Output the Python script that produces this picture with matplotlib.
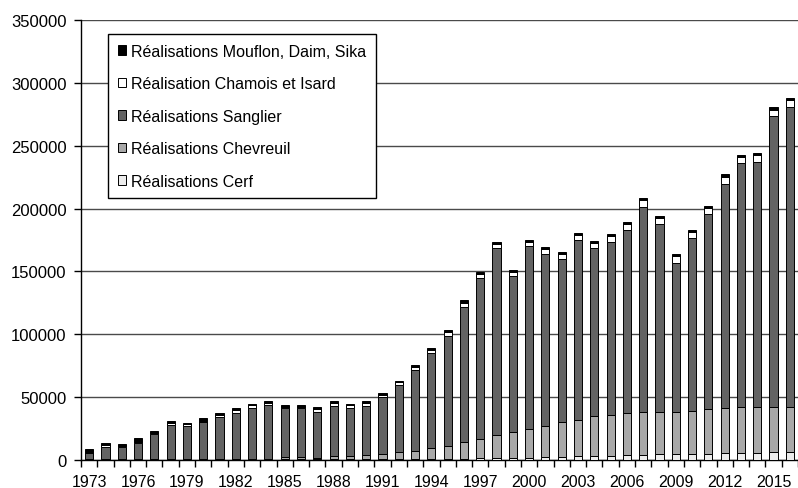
import numpy as np
import matplotlib.pyplot as plt

# Tableau de chasse par année
years = list(range(1973, 2017))

cerf = [300, 300, 300, 300, 300, 300, 300, 300, 300, 300,
        300, 300, 400, 400, 400, 500, 500, 500, 600, 700,
        800, 900, 1000, 1100, 1300, 1500, 1700, 1900, 2200, 2500,
        3000, 3300, 3500, 4000, 4300, 4500, 4700, 4900, 5100, 5300,
        5700, 5900, 6000, 6100]
chevreuil = [600, 600, 600, 600, 600, 600, 600, 600, 600, 600,
             700, 700, 1700, 1900, 1400, 2700, 2900, 3500, 4200, 5400,
             6600, 8400, 10400, 12900, 15400, 18400, 20900, 22700, 25100, 27800,
             29000, 31700, 32500, 33100, 33600, 33400, 33200, 34100, 35200, 35900,
             36100, 35900, 35800, 35700]
sanglier = [4500, 9700, 9200, 13000, 19400, 27000, 25800, 29400, 33400, 36800,
            40300, 42500, 39000, 38800, 36500, 39600, 37900, 38600, 45300, 53500,
            64300, 75700, 86900, 108000, 128000, 148800, 123500, 145300, 136200, 129400,
            142700, 133400, 137600, 146100, 163000, 149800, 118900, 137500, 155700, 178500,
            194300, 195400, 231900, 239100]
chamois = [300, 1400, 1100, 300, 1400, 1800, 1600, 300, 1800, 2000,
           2200, 1800, 1300, 1300, 2300, 2500, 2200, 2700, 1900, 2300,
           2500, 2700, 3700, 3200, 3200, 3400, 3400, 3600, 4200, 4300,
           4400, 4100, 4600, 4600, 5800, 5100, 5100, 4900, 4600, 5800,
           4600, 5600, 5100, 5600]
mouflon = [2800, 1300, 1300, 3000, 1300, 1300, 1300, 3000, 1300, 1300,
           1300, 1300, 1300, 1300, 1300, 1300, 1300, 1300, 1300, 1300,
           1300, 1300, 1300, 2300, 1500, 1500, 1500, 1500, 1500, 1500,
           1500, 1500, 1600, 1600, 1600, 1600, 1600, 1600, 1600, 1700,
           1700, 1700, 1700, 1700]

series = [
    ("Réalisations Cerf", cerf, "#ececec"),
    ("Réalisations Chevreuil", chevreuil, "#a8a8a8"),
    ("Réalisations Sanglier", sanglier, "#636363"),
    ("Réalisation Chamois et Isard", chamois, "#ffffff"),
    ("Réalisations Mouflon, Daim, Sika", mouflon, "#000000"),
]

plt.rcParams['font.family'] = ['Liberation Sans', 'DejaVu Sans']

fig = plt.figure(figsize=(7.98, 4.89), dpi=100)
ax = fig.add_axes([81 / 798, 28 / 489, 1 - 81 / 798, 440 / 489])

x = np.arange(len(years))
bottom = np.zeros(len(years))
handles = []
for label, vals, col in series:
    b = ax.bar(x, vals, width=0.5, bottom=bottom, color=col,
               edgecolor="black", linewidth=0.7, label=label, zorder=3)
    bottom += np.array(vals)
    handles.append(b)

ax.set_ylim(0, 350000)
ax.set_xlim(-0.5, 43.33)
ax.set_yticks(np.arange(0, 350001, 50000))
ax.yaxis.grid(True, color="#4a4a4a", linewidth=1.0, zorder=0)
ax.set_axisbelow(True)

# labels every 3 years, tick marks between bars
ax.set_xticks(x[::3])
ax.set_xticklabels([str(y) for y in years[::3]])
ax.set_xticks(np.arange(-0.5, len(years), 1), minor=True)
ax.tick_params(axis="x", which="major", length=0, labelsize=11.5, pad=10)
ax.tick_params(axis="x", which="minor", length=5, width=1, direction="out")
ax.tick_params(axis="y", length=5, width=1, labelsize=12, pad=5.5)

for s in ["top", "right"]:
    ax.spines[s].set_visible(False)
ax.spines["left"].set_linewidth(1.0)
ax.spines["bottom"].set_linewidth(1.0)

leg = ax.legend(handles[::-1], [s[0] for s in series][::-1],
                loc="upper left", bbox_to_anchor=(108 / 798, 1 - 35 / 489),
                bbox_transform=fig.transFigure, borderaxespad=0,
                fontsize=11.5, frameon=True, fancybox=False,
                handlelength=0.55, handleheight=0.55, handletextpad=0.3,
                labelspacing=1.1, borderpad=0.6)
leg.get_frame().set_edgecolor("black")
leg.get_frame().set_linewidth(1.0)
leg.get_frame().set_alpha(1)
leg.set_zorder(5)

fig.savefig("out.png", dpi=100)
